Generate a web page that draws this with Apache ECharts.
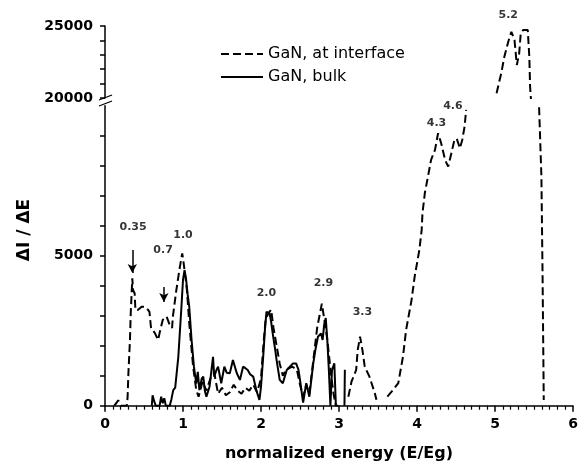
<!DOCTYPE html>
<html>
<head>
<meta charset="utf-8">
<script src="https://cdn.jsdelivr.net/npm/echarts@6/dist/echarts.min.js"></script>
<style>
  html, body { margin: 0; padding: 0; background: #fff; }
  #chart { width: 587px; height: 472px; }
</style>
</head>
<body>
<div id="chart"></div>
<script>
// 数据
var interfaceData = [
  [0.12, 0], [0.17, 180], [0.21, 0], [0.28, 0], [0.29, 300], [0.30, 1080], [0.32, 2190], [0.33, 3080],
  [0.35, 4250], [0.36, 3850], [0.38, 3750], [0.39, 3190], [0.42, 3190], [0.47, 3300], [0.51, 3300],
  [0.55, 3200], [0.57, 3130], [0.59, 2590], [0.64, 2420], [0.68, 2190], [0.70, 2420], [0.74, 2860],
  [0.79, 2970], [0.83, 2690], [0.86, 2590], [0.87, 2970], [0.915, 3860], [0.96, 4630], [0.99, 5080],
  [1.0, 4920], [1.03, 4300], [1.05, 3860], [1.08, 2750], [1.13, 1300], [1.17, 520], [1.2, 300],
  [1.25, 800], [1.3, 500], [1.35, 900], [1.4, 1100], [1.45, 400], [1.5, 600], [1.55, 350], [1.6, 450],
  [1.65, 700], [1.7, 500], [1.75, 400], [1.8, 600], [1.85, 500], [1.9, 700], [1.95, 450], [2.0, 900],
  [2.03, 2000], [2.06, 2900], [2.1, 3100], [2.13, 3200], [2.16, 2600], [2.2, 2000], [2.24, 1400],
  [2.28, 1000], [2.32, 1200], [2.4, 1300], [2.46, 1200], [2.5, 700], [2.54, 300], [2.58, 700],
  [2.62, 400], [2.67, 1500], [2.72, 2600], [2.75, 3000], [2.78, 3400], [2.81, 2900], [2.85, 2200],
  [2.9, 1000], [2.93, 400], [2.96, 0], [3.05, null],
  [3.12, 300], [3.16, 800], [3.22, 1190], [3.24, 1860], [3.27, 2300], [3.3, 1860], [3.33, 1300],
  [3.39, 970], [3.46, 410], [3.48, 200], [3.55, null],
  [3.62, 300], [3.69, 520], [3.76, 750], [3.82, 1630], [3.86, 2520], [3.93, 3520], [3.97, 4300],
  [4.03, 5190], [4.06, 5860], [4.07, 6410], [4.10, 7080], [4.14, 7630], [4.18, 8190], [4.23, 8520],
  [4.27, 9080], [4.31, 8750], [4.36, 8190], [4.40, 7970], [4.44, 8410], [4.48, 8860], [4.51, 8900],
  [4.55, 8580], [4.58, 8860], [4.61, 9300], [4.63, 9860], [4.8, null],
  [5.02, 20330], [5.08, 21720], [5.12, 22870], [5.17, 23910], [5.21, 24600], [5.25, 24030],
  [5.28, 22290], [5.31, 23100], [5.33, 24490], [5.36, 24720], [5.42, 24720], [5.44, 22870],
  [5.45, 20780], [5.46, 20000], [5.565, 9970], [5.595, 7630], [5.61, 4300], [5.625, 190]
];

var bulkData = [
  [0.6, 0], [0.61, 350], [0.63, 150], [0.65, 0], [0.7, 0], [0.72, 300], [0.74, 80], [0.76, 250],
  [0.78, 0], [0.83, 0], [0.85, 200], [0.875, 520], [0.9, 600], [0.94, 1630], [0.98, 3300], [1.0, 4200],
  [1.02, 4520], [1.04, 4200], [1.06, 3700], [1.08, 3300], [1.11, 2190], [1.14, 1300], [1.17, 740],
  [1.19, 1130], [1.21, 520], [1.24, 900], [1.26, 970], [1.28, 500], [1.3, 300], [1.34, 630],
  [1.37, 1300], [1.385, 1630], [1.40, 970], [1.43, 1200], [1.45, 1300], [1.49, 750], [1.53, 1300],
  [1.56, 1100], [1.6, 1080], [1.64, 1520], [1.69, 1080], [1.73, 860], [1.77, 1300], [1.8, 1250],
  [1.83, 1190], [1.86, 1050], [1.9, 970], [1.94, 520], [1.98, 190], [2.0, 630], [2.03, 1700],
  [2.05, 2520], [2.07, 3130], [2.09, 3190], [2.11, 3080], [2.13, 2800], [2.15, 2410], [2.18, 1900],
  [2.2, 1520], [2.24, 860], [2.28, 750], [2.33, 1190], [2.37, 1300], [2.41, 1410], [2.45, 1410],
  [2.48, 1200], [2.5, 860], [2.54, 100], [2.58, 750], [2.62, 300], [2.67, 1410], [2.7, 1900],
  [2.73, 2300], [2.77, 2410], [2.79, 2190], [2.81, 2700], [2.83, 2920], [2.85, 2190], [2.87, 1190],
  [2.89, 0], [2.91, 1190], [2.94, 1410], [2.96, 0], [2.99, 0], [3.03, null], [3.07, 0], [3.075, 1200]
];

// 峰值标注
var peakLabelsLow = [
  ['0.35', 0.36, 5960], ['0.7', 0.745, 5190], ['1.0', 1.0, 5690], ['2.0', 2.07, 3760],
  ['2.9', 2.8, 4090], ['3.3', 3.3, 3120], ['4.3', 4.25, 9420], ['4.6', 4.46, 9990]
];
var peakLabelsHigh = [['5.2', 5.17, 25760]];
var arrows = [[0.35, 5190, 4420], [0.755, 3960, 3460]];

var lowTicks = [0, 1000, 2000, 3000, 4000, 5000, 6000, 7000, 8000, 9000];
var lowLabels = [0, 5000];
var highTicks = [20000, 21000, 22000, 23000, 24000, 25000];
var highLabels = [20000, 25000];

var myChart = echarts.init(document.getElementById('chart'));

var font = 'DejaVu Sans';
var axisLineStyle = { color: '#000', width: 1.5 };
var dashStyle = { color: '#000', width: 2, type: 'dashed', dashOffset: 0, cap: 'butt' };
var plainLabel = function (v) { return String(v); };

var option = {
  animation: false,
  backgroundColor: '#fff',
  legend: {
    data: ['GaN, at interface', 'GaN, bulk'],
    orient: 'vertical',
    left: 215,
    top: 41,
    itemWidth: 42,
    itemHeight: 16,
    itemGap: 7,
    itemStyle: { opacity: 0 },
    textStyle: { fontFamily: font, fontSize: 16, color: '#000' }
  },
  grid: [
    { left: 105, right: 14, top: 105.7, height: 300, outerBoundsMode: 'none' },
    { left: 105, right: 14, top: 26, height: 72, outerBoundsMode: 'none' }
  ],
  xAxis: [{
    gridIndex: 0,
    type: 'value',
    min: 0, max: 6, interval: 1,
    name: 'normalized energy (E/Eg)',
    nameLocation: 'middle',
    nameGap: 40,
    nameTextStyle: { fontFamily: font, fontSize: 16, fontWeight: 'bold', color: '#000' },
    axisLine: { lineStyle: axisLineStyle },
    axisTick: { length: 6, lineStyle: axisLineStyle },
    minorTick: { show: true, splitNumber: 10, length: 4, lineStyle: { color: '#000', width: 1.2 } },
    splitLine: { show: false },
    axisLabel: { margin: 12, formatter: plainLabel, fontFamily: font, fontSize: 14, fontWeight: 'bold', color: '#000' }
  }, {
    gridIndex: 1,
    type: 'value',
    min: 0, max: 6,
    show: false
  }],
  yAxis: [{
    gridIndex: 0,
    type: 'value',
    min: 0, max: 10000, interval: 1000,
    axisLine: { show: true, lineStyle: axisLineStyle },
    axisTick: { show: true, length: 5, customValues: lowTicks, lineStyle: axisLineStyle },
    splitLine: { show: false },
    axisLabel: { customValues: lowLabels, formatter: plainLabel, margin: 12, fontFamily: font, fontSize: 14, fontWeight: 'bold', color: '#000' }
  }, {
    gridIndex: 1,
    type: 'value',
    min: 20000, max: 25000, interval: 1000,
    axisLine: { show: true, lineStyle: axisLineStyle },
    axisTick: { show: true, length: 5, customValues: highTicks, lineStyle: axisLineStyle },
    splitLine: { show: false },
    axisLabel: { customValues: highLabels, formatter: plainLabel, margin: 12, fontFamily: font, fontSize: 14, fontWeight: 'bold', color: '#000' }
  }],
  series: [{
    name: 'GaN, at interface',
    type: 'line',
    xAxisIndex: 0, yAxisIndex: 0,
    data: interfaceData,
    showSymbol: false,
    symbol: 'none',
    clip: true,
    lineStyle: dashStyle,
    itemStyle: { color: '#000' }
  }, {
    name: 'GaN, at interface',
    type: 'line',
    xAxisIndex: 1, yAxisIndex: 1,
    data: interfaceData,
    showSymbol: false,
    symbol: 'none',
    clip: true,
    lineStyle: dashStyle,
    itemStyle: { color: '#000' }
  }, {
    name: 'GaN, bulk',
    type: 'line',
    xAxisIndex: 0, yAxisIndex: 0,
    data: bulkData,
    showSymbol: false,
    symbol: 'none',
    clip: true,
    lineStyle: { color: '#000', width: 2 },
    itemStyle: { color: '#000' }
  }, {
    name: 'labels',
    type: 'scatter',
    xAxisIndex: 0, yAxisIndex: 0,
    symbolSize: 0,
    clip: false,
    silent: true,
    data: peakLabelsLow.map(function (d) { return { name: d[0], value: [d[1], d[2]] }; }),
    label: {
      show: true, position: 'inside', formatter: '{b}',
      fontFamily: font, fontSize: 11, fontWeight: 'bold', color: '#000'
    },
    markLine: {
      silent: true,
      symbol: ['none', 'arrow'],
      symbolSize: [7, 9],
      label: { show: false },
      lineStyle: { color: '#000', width: 1.5, type: 'solid' },
      data: arrows.map(function (a) { return [{ coord: [a[0], a[1]] }, { coord: [a[0], a[2]] }]; })
    }
  }, {
    name: 'labels2',
    type: 'scatter',
    xAxisIndex: 1, yAxisIndex: 1,
    symbolSize: 0,
    clip: false,
    silent: true,
    data: peakLabelsHigh.map(function (d) { return { name: d[0], value: [d[1], d[2]] }; }),
    label: {
      show: true, position: 'inside', formatter: '{b}',
      fontFamily: font, fontSize: 11, fontWeight: 'bold', color: '#000'
    }
  }],
  graphic: [{
    type: 'text',
    x: 25, y: 230,
    rotation: Math.PI / 2,
    style: {
      text: 'ΔI / ΔE', fill: '#000',
      font: 'bold 17px "DejaVu Sans"',
      align: 'center', verticalAlign: 'middle'
    }
  }, {
    // 断轴标记
    type: 'line',
    shape: { x1: 99, y1: 100, x2: 112, y2: 95 },
    style: { stroke: '#000', lineWidth: 1.3 }
  }, {
    type: 'line',
    shape: { x1: 99, y1: 106, x2: 112, y2: 101 },
    style: { stroke: '#000', lineWidth: 1.3 }
  }]
};

myChart.setOption(option);
</script>
</body>
</html>
